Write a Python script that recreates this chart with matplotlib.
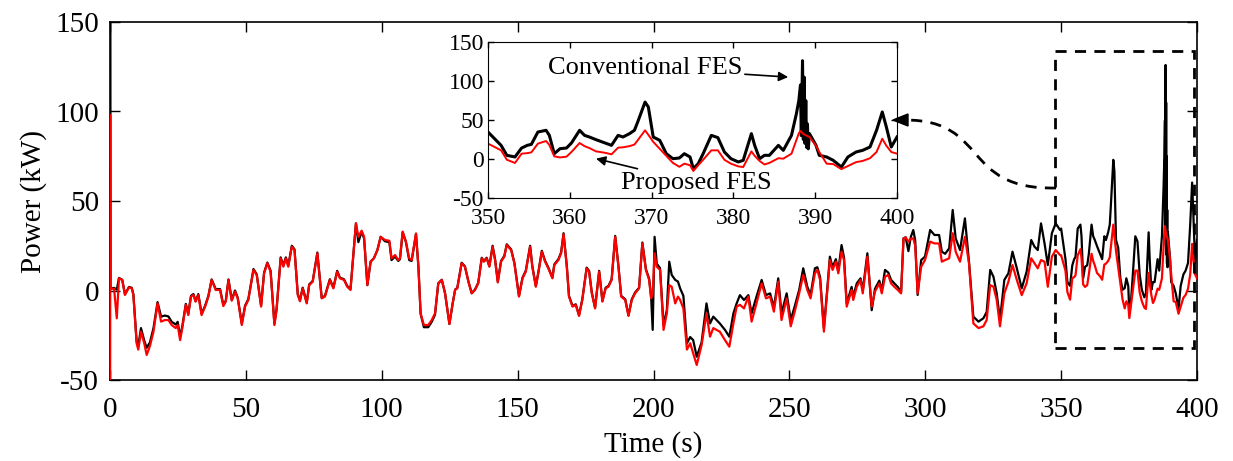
import matplotlib
matplotlib.use("Agg")
import matplotlib.pyplot as plt
from matplotlib.patches import Rectangle, PathPatch
from matplotlib.path import Path

plt.rcParams['font.family'] = ['Liberation Serif', 'DejaVu Serif']
plt.rcParams['axes.unicode_minus'] = False
plt.rcParams['xtick.direction'] = 'in'
plt.rcParams['ytick.direction'] = 'in'
plt.rcParams['xtick.top'] = True
plt.rcParams['ytick.right'] = True

# time (s)
t = [0, 0.05, 0.15, 1.5, 2.5, 3.3, 4.5, 5.5, 7.0, 8.0, 8.6, 9.8,
     10.4, 11.4, 12.6, 13.5, 14.7, 16.0, 17.5, 18.8, 20.2, 21.5, 22.7, 24.2,
     24.9, 25.8, 26.6, 27.9, 28.8, 29.8, 30.7, 31.5, 32.5, 33.7, 35.0, 36.2,
     37.4, 38.9, 40.5, 41.7, 42.6, 43.6, 44.8, 46.0, 47.0, 48.5, 49.7, 50.9,
     52.8, 54.0, 55.6, 56.7, 57.9, 59.1, 60.5, 61.3, 62.8, 63.8, 64.7, 65.6,
     66.9, 67.9, 69.1, 69.9, 70.9, 72.4, 73.3, 74.6, 76.3, 77.9, 79.1, 80.9,
     82.2, 83.6, 84.6, 86.1, 87.3, 88.5, 90.5, 91.4, 92.6, 93.5, 94.7, 95.9,
     97.1, 98.4, 99.6, 101.2, 102.8, 103.6, 104.9, 106.1, 106.7, 107.7, 108.9, 110.1,
     111.0, 112.6, 113.5, 114.3, 115.5, 117.1, 118.4, 119.6, 120.8, 122.1, 123.3, 124.9,
     126.1, 127.0, 127.8, 129.4, 130.6, 131.9, 133.1, 134.3, 135.5, 136.8, 137.6, 138.6,
     139.6, 140.8, 141.7, 142.7, 143.9, 145.1, 146.0, 147.6, 148.8, 150.5, 151.8, 153.0,
     154.6, 155.4, 156.7, 157.6, 158.9, 160.1, 161.3, 162.8, 163.5, 165.0, 166.0, 166.9,
     168.1, 168.9, 170.2, 171.4, 172.6, 173.8, 175.4, 176.3, 177.3, 178.5, 180.0, 181.2,
     182.4, 183.4, 184.6, 185.9, 187.1, 188.1, 189.6, 190.8, 192.0, 193.2, 194.7, 195.9,
     197.2, 198.4, 199.1, 199.7, 200.4, 201.2, 202.4, 203.7, 204.9, 205.8, 206.7, 208.0,
     209.0, 209.8, 211.0, 212.3, 213.5, 214.6, 215.9, 217.7, 219.5, 220.8, 222.0, 224.4,
     226.3, 227.9, 229.4, 230.6, 231.8, 233.3, 234.9, 236.1, 237.9, 239.8, 241.4, 242.9,
     244.3, 245.9, 247.1, 249.0, 250.5, 252.1, 253.6, 255.1, 256.6, 257.8, 259.4, 260.3,
     261.3, 262.7, 264.0, 264.9, 265.9, 267.1, 268.0, 269.2, 270.1, 271.1, 272.9, 273.5,
     274.8, 276.2, 277.0, 278.7, 280.3, 281.5, 283.1, 284.0, 285.2, 286.4, 287.4, 288.6,
     289.9, 291.1, 292.0, 292.8, 293.8, 294.7, 295.6, 296.3, 297.2, 298.5, 299.9, 301.8,
     303.4, 305.1, 306.1, 307.3, 308.8, 310.1, 311.2, 312.8, 314.6, 316.1, 317.7, 319.6,
     321.4, 322.6, 323.9, 325.1, 326.3, 327.5, 329.1, 330.6, 332.1, 333.7, 335.5, 337.3,
     339.0, 340.2, 341.4, 342.6, 343.9, 345.1, 346.6, 348.0, 349.6,
     350, 350.8, 351.6, 352.3, 353.3, 354.1, 354.8, 355.3, 356.1, 357.1, 357.5, 358.1,
     358.8, 359.6, 360.2, 361.2, 361.8, 362.4, 363.2, 364.3, 365.1, 365.9, 366.5, 367.3,
     367.9, 368.3, 369.2, 369.6, 370.2, 371.0, 371.8, 372.6, 373.4, 374.0, 374.7, 375.1,
     375.7, 376.3, 377.3, 378.1, 378.9, 379.7, 380.6, 381.2, 382.2, 382.6, 383.2, 383.8,
     384.4, 385.5, 386.1, 387.1, 387.7, 388.0, 388.2, 388.3, 388.45, 388.55, 388.65, 388.75,
     388.85, 388.95, 389.05, 389.15, 389.3, 390.1, 390.5, 391.4, 392.2, 393.2, 394.0, 395.0,
     395.8, 396.7, 397.5, 398.2, 398.7, 399.3, 400]

# Proposed FES power (kW), red
prop = [-50, 98, 1, 1, -15.5, 6.8, 5.9, -2.5, 1.8, 1.2, -2.5, -29.5,
        -33, -23, -29.5, -36, -31, -23, -7.2, -17.4, -16.5, -16.5, -19.3, -21,
        -19.3, -27.7, -21, -8, -13.7, -3.4, -2.5, -6.2, -2.5, -13.7, -9, -3.4,
        5.9, 0.3, 0.3, -8.7, -6.2, 5.9, -5.7, -0.6, -4.4, -19.3, -9, -5.3,
        11.5, 8.7, -9, 9.6, 15.2, 10.5, -19.3, -10.9, 18, 13.3, 18, 13.3,
        24.5, 22.6, -2.5, -6, 1.2, -7.2, 3, 4.9, 20.8, -4.4, -3.4, 5.9,
        1.2, 10.5, 6.8, 5.9, 2.1, 0.3, 37.5, 30, 33.4, 30, 3, 16.1,
        18, 22.6, 30, 28.2, 27.8, 18, 19.8, 17, 18, 32.9, 27.3, 18,
        17, 31.9, 13.3, -12.8, -19.3, -19.3, -16.5, -12.8, 4, 5.9, -1.6, -18.7,
        -7.2, 0.3, 1.2, 15.2, 13.3, 4.9, -1.6, 0.3, 4, 18, 16.1, 18,
        13.3, 24.5, 17, 4.5, 16.1, 18.9, 25.4, 22.6, 15.2, -3.4, 6.8, 10.5,
        24.5, 13.3, 2.1, 9.6, 21.7, 16.1, 12.4, 6.8, 14.2, 17, 20.8, 31.5,
        13.3, -3.4, -9, -8.1, -14.2, -5.3, 12.4, 10.5, -1.6, -10, 10.5, -6.2,
        1.2, 2.1, 5.9, 30, 13.3, -3.4, -5.3, -14.2, -5.3, -1.6, 1.2, 26.3,
        11.5, 5.9, -4.4, -2, 20.8, 13.3, 11.5, -22, -12.8, 3, 2.1, -7.2,
        -3.4, -5.3, -10, -33, -29.5, -35, -41.6, -30.5, -12.8, -25.8, -21, -23,
        -27.7, -31.4, -18.4, -9, -8, -10, -3.4, -17.4, -7.2, 4, -4.4, -3.4,
        -11.8, 4.9, -16.5, -4.4, -20, -11, -1.6, 8.7, 0.3, -4.4, 9.6, 11.5,
        5.9, -23, 0.3, 17, 11.5, 16.1, 9.6, 21.7, 17, -9, 0.3, -5.3,
        2.1, 5.9, -1.6, 18.9, -9, -0.6, 4, -1.6, 7.7, 8.7, 4, 2.1,
        0.3, -1.6, 29.1, 29.7, 27.3, 29, 29.1, 25, -1.6, 13.3, 17, 27.3,
        26.3, 26.3, 16.1, 17, 18, 32, 21.7, 16.1, 30, 15.2, -18.4, -21,
        -20, -16.5, 3, 2.1, -5.3, -20, -1.6, 4.9, 14.2, 5.9, -2.6, 4,
        18, 15.2, 12.4, 17, 16.1, 2.1, 18.9, 22.6, 19.8,
        19.7, 15.5, 11.1, -0.9, -5.1, 6.8, 7.5, 8.5, 19.7, 23.1, 18, 3.4,
        2, 3, 9, 20.5, 16.5, 14, 9.8, 8, 6, 14.5, 15, 16.5,
        18.5, 24, 36.8, 31, 22, 13, 4, -5, -10, -6, -8, -15.4,
        -8, -1, 11.1, 11.1, -1, -6, -9.5, -10.3, 9.8, 4, -2.5, -7,
        -5, 1, 0.4, 6.8, 24, 33, 35.9, 35, 33, 32, 31.5, 31,
        30.5, 30, 29.5, 29, 28.2, 17, 9, -6, -6.5, -13, -9, -4,
        -2.5, 1, 9, 26, 17, 9, 6.8]

# Conventional FES power (kW), black
conv = [-50, 150, 1, 1.5, 0.5, 7, 6, -2, 2, 1.5, -2, -28.5,
        -31, -21, -28, -32, -29, -21, -6.5, -14.6, -14, -14.5, -17.5, -19,
        -17.5, -25.8, -20, -7.5, -13, -3, -2, -6, -2, -13, -8.5, -3,
        6.2, 0.8, 0.8, -8, -5.8, 6.2, -5.2, 0, -4, -18.5, -8.5, -4.8,
        12, 9, -8.5, 10, 15.6, 11, -18.5, -10.3, 18.5, 14, 18.5, 13.8,
        25, 23, -2, -5.5, 1.6, -6.8, 3.4, 5.3, 21.2, -4, -3, 6.3,
        1.6, 11, 7.2, 6.3, 2.5, 0.8, 37.5, 27, 33, 29, 3, 16.1,
        18, 22.6, 30, 27.5, 27, 17, 19, 16.5, 17.5, 32.5, 27, 17,
        16.5, 31.5, 13, -13, -20.5, -20.5, -17.5, -13.5, 4, 6, -1.6, -18.7,
        -7.2, 0.5, 1.5, 15.5, 13.5, 5, -1.5, 0.5, 4.3, 18.3, 16.4, 18.3,
        13.6, 25, 17.4, 5, 16.5, 19.3, 25.8, 23, 15.6, -3, 7.2, 11,
        25, 13.7, 2.5, 10, 22.2, 16.6, 12.8, 7.2, 14.6, 17.5, 21.3, 32,
        13.7, -3, -8.6, -7.7, -13.8, -4.9, 12.8, 11, -1.2, -9.6, 11, -5.8,
        1.6, 2.5, 6.3, 30.5, 13.7, -3, -4.9, -13.8, -4.9, -1.2, 1.6, 26.8,
        12, 6.5, -3, -22, 30, 15, 12.5, -19.3, -11, 16.1, 8.7, 5.9,
        5, 1.2, -3, -29.5, -26, -27.7, -37, -29, -7.2, -18.4, -14.6, -18.4,
        -22, -25.8, -12.8, -7.2, -2.6, -5.3, -2.6, -12.8, -3.4, 5.9, -2.6, -1.6,
        -9.5, 6.8, -12.8, -1.6, -16.5, -8.1, 0.3, 12.4, 2.1, -2.6, 12.4, 13,
        7.5, -21, 2, 18.9, 13, 17.5, 11, 25.4, 18.5, -7.2, 2, -3.4,
        4, 6.8, 0, 20.8, -11, 1, 5.5, 0, 11.5, 10, 6, 4,
        2, -1, 29.1, 29.7, 22, 30, 33.8, 28, -2.5, 17, 18.9, 33.8,
        31, 31, 21.7, 20.5, 23.5, 45, 29.1, 22.6, 40.3, 16, -14.6, -17.4,
        -15.5, -12, 11.5, 7.7, -1.6, -16.5, 5.9, 9.6, 21.7, 12.4, 1.2, 10.5,
        28.2, 24.5, 22.6, 37.5, 26.3, 14.2, 32, 37.5, 33.8,
        34.6, 26, 17.5, 4.7, 2.6, 14, 17.5, 18.8, 34.6, 36.8, 30.3, 6.8,
        13.2, 14.1, 20.5, 36.8, 30.3, 28.2, 24.8, 20.5, 17.5, 30.3, 28.2, 32.5,
        36.8, 47.4, 73, 66.7, 28.2, 23.9, 6.8, 0.4, 1.3, 6.8, 2.6, -12.4,
        -6, 6.8, 30.3, 27.4, 9, 0.4, -3.8, -1.7, 32.5, 17.5, 0.4, 4.7,
        4.7, 17.5, 11.1, 30.3, 58, 75, 95, 30, 126, 25, 105, 20,
        75, 15, 45, 13, 32.5, 17.5, 4.7, 2.6, -1.7, -10.3, 2.6, 9,
        11.1, 15.4, 36.8, 60.3, 41, 15.4, 28.2]

main_xticks = [0, 50, 100, 150, 200, 250, 300, 350, 400]
main_yticks = [-50, 0, 50, 100, 150]
inset_xticks = [350, 360, 370, 380, 390, 400]

W, H = 1233, 461
fig = plt.figure(figsize=(W / 100, H / 100), dpi=100)

# main axes
ax = fig.add_axes([110 / W, 1 - 380 / H, 1087 / W, 358 / H])
ax.plot(t, conv, color='black', lw=1.6, zorder=3)
ax.plot(t, prop, color='red', lw=1.6, zorder=3)
ax.set_xlim(0, 400)
ax.set_ylim(-50, 150)
ax.set_xticks(main_xticks)
ax.set_yticks(main_yticks)
ax.tick_params(labelsize=21, length=7, width=1)
ax.tick_params(axis='x', pad=12)
ax.tick_params(axis='y', pad=8)
ax.set_xlabel('Time (s)', fontsize=21, labelpad=6)
ax.set_ylabel('Power (kW)', fontsize=21, labelpad=6)
for s in ax.spines.values():
    s.set_linewidth(1.2)

# zoom box
ax.add_patch(Rectangle((347.8, -32), 51.2, 165.8, fill=False, ec='black',
                       lw=2, ls=(0, (4, 3)), zorder=5))

# inset axes
axi = fig.add_axes([488 / W, 1 - 198 / H, 409 / W, 156 / H])
axi.plot(t, conv, color='black', lw=2.2)
axi.plot(t, prop, color='red', lw=1.4)
axi.set_xlim(350, 400)
axi.set_ylim(-50, 150)
axi.set_xticks(inset_xticks)
axi.set_yticks(main_yticks)
axi.tick_params(labelsize=17, length=4, width=1)
axi.tick_params(axis='x', pad=7)
axi.tick_params(axis='y', pad=3)

axi.annotate('Conventional FES', xy=(386.7, 105), xytext=(357.3, 117),
             fontsize=19, va='center', ha='left',
             arrowprops=dict(arrowstyle='-|>', color='black', lw=1.2,
                             mutation_scale=14, shrinkA=0, shrinkB=0))
axi.annotate('Proposed FES', xy=(363.2, 0.5), xytext=(366.3, -31),
             fontsize=19, va='center', ha='left',
             arrowprops=dict(arrowstyle='-|>', color='black', lw=1.2,
                             mutation_scale=14, shrinkA=2, shrinkB=0))

# dashed connector from the zoom box to the inset
def fpt(x, y):
    return (x / W, 1 - y / H)

verts = [fpt(1056, 188), fpt(960, 190), fpt(990, 120), fpt(905, 120)]
codes = [Path.MOVETO, Path.CURVE4, Path.CURVE4, Path.CURVE4]
fig.patches.append(PathPatch(Path(verts, codes), transform=fig.transFigure,
                             fill=False, ec='black', lw=2, ls=(0, (4, 3))))
fig.patches.append(plt.Polygon([fpt(893, 120), fpt(908, 114), fpt(908, 126)],
                               closed=True, transform=fig.transFigure,
                               fc='black', ec='black'))

fig.savefig('out.png', dpi=100)
